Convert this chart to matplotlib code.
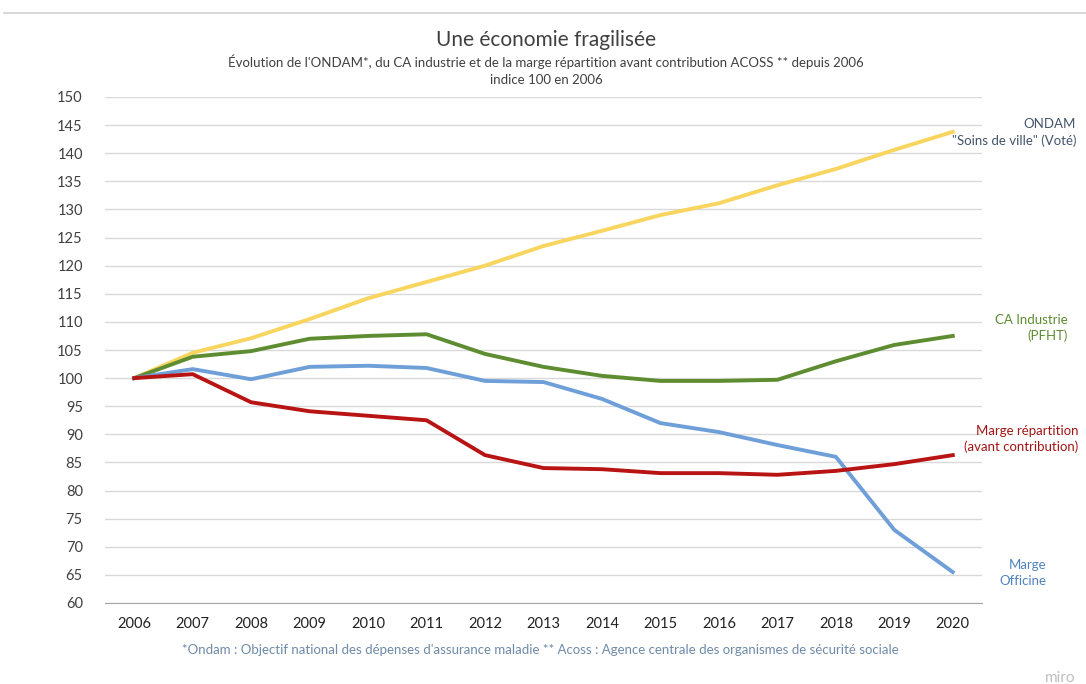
import matplotlib
matplotlib.use("Agg")
import matplotlib.pyplot as plt
import numpy as np

plt.rcParams['font.family'] = ['Lato', 'DejaVu Sans']

years = [2006, 2007, 2008, 2009, 2010, 2011, 2012, 2013, 2014, 2015, 2016, 2017, 2018, 2019, 2020]
ondam = [100, 104.5, 107.1, 110.5, 114.2, 117.1, 120.0, 123.5, 126.2, 129.0, 131.1, 134.3, 137.2, 140.6, 143.8]
ca_industrie = [100, 103.8, 104.8, 107.0, 107.5, 107.8, 104.3, 102.0, 100.4, 99.5, 99.5, 99.7, 103.0, 105.9, 107.5]
marge_officine = [100, 101.6, 99.8, 102.0, 102.2, 101.8, 99.5, 99.3, 96.3, 92.0, 90.4, 88.1, 86.0, 73.0, 65.5]
marge_repartition = [100, 100.7, 95.7, 94.1, 93.3, 92.5, 86.3, 84.0, 83.8, 83.1, 83.1, 82.8, 83.5, 84.7, 86.3]

W, H = 1086, 684
fig = plt.figure(figsize=(W / 100, H / 100), dpi=100)
ax = fig.add_axes([105 / W, 1 - 603 / H, (982 - 105) / W, (603 - 97) / H])

x = np.arange(len(years))
ax.plot(x, ondam, color='#F7D55E', lw=2.8)
ax.plot(x, ca_industrie, color='#5E8C31', lw=2.8)
ax.plot(x, marge_officine, color='#6E9FD8', lw=2.8)
ax.plot(x, marge_repartition, color='#B81414', lw=2.8)

ax.set_xlim(-0.5, len(years) - 0.5)
ax.set_ylim(60, 150)
ax.set_yticks(range(60, 151, 5))
ax.set_xticks(x)
ax.set_xticklabels([str(y) for y in years])
ax.grid(axis='y', color='#D9D9D9', lw=1)
ax.set_axisbelow(True)
for s in ['top', 'right', 'left']:
    ax.spines[s].set_visible(False)
ax.spines['bottom'].set_color('#A6A6A6')
ax.tick_params(axis='both', length=0, labelsize=10.5, colors='#222222')
ax.tick_params(axis='x', pad=10)
ax.tick_params(axis='y', pad=16)
for lbl in ax.get_yticklabels():
    lbl.set_color('#404040')

# series labels on the right
fig.text(1076 / W, 1 - 124 / H, 'ONDAM', ha='right', va='center', fontsize=9.5, color='#44546A')
fig.text(1076 / W, 1 - 141 / H, '"Soins de ville" (Voté)', ha='right', va='center', fontsize=9.5, color='#44546A')
fig.text(1068 / W, 1 - 320 / H, 'CA Industrie', ha='right', va='center', fontsize=9.5, color='#5E8C31')
fig.text(1068 / W, 1 - 336 / H, '(PFHT)', ha='right', va='center', fontsize=9.5, color='#5E8C31')
fig.text(1078 / W, 1 - 431 / H, 'Marge répartition', ha='right', va='center', fontsize=9.5, color='#A31515')
fig.text(1078 / W, 1 - 447 / H, '(avant contribution)', ha='right', va='center', fontsize=9.5, color='#A31515')
fig.text(1046 / W, 1 - 565 / H, 'Marge', ha='right', va='center', fontsize=9.5, color='#4F81BD')
fig.text(1046 / W, 1 - 581 / H, 'Officine', ha='right', va='center', fontsize=9.5, color='#4F81BD')

# titles
fig.text(546 / W, 1 - 40 / H, 'Une économie fragilisée', ha='center', va='center', fontsize=15, color='#404040')
fig.text(546 / W, 1 - 62 / H,
         "Évolution de l'ONDAM*, du CA industrie et de la marge répartition avant contribution ACOSS ** depuis 2006",
         ha='center', va='center', fontsize=9.5, color='#404040')
fig.text(546 / W, 1 - 80 / H, 'indice 100 en 2006', ha='center', va='center', fontsize=9.5, color='#404040')

fig.text(540 / W, 1 - 650 / H,
         "*Ondam : Objectif national des dépenses d'assurance maladie ** Acoss : Agence centrale des organismes de sécurité sociale",
         ha='center', va='center', fontsize=9.5, color='#6E8AA8')
fig.text(1075 / W, 1 - 678 / H, 'miro', ha='right', va='center', fontsize=11, color='#BFBFBF')

# thin border line at the top
fig.add_artist(plt.Line2D([4 / W, 1], [1 - 13 / H, 1 - 13 / H], transform=fig.transFigure, color='#D0D0D0', lw=1.2))

fig.savefig('out.png', dpi=100)
